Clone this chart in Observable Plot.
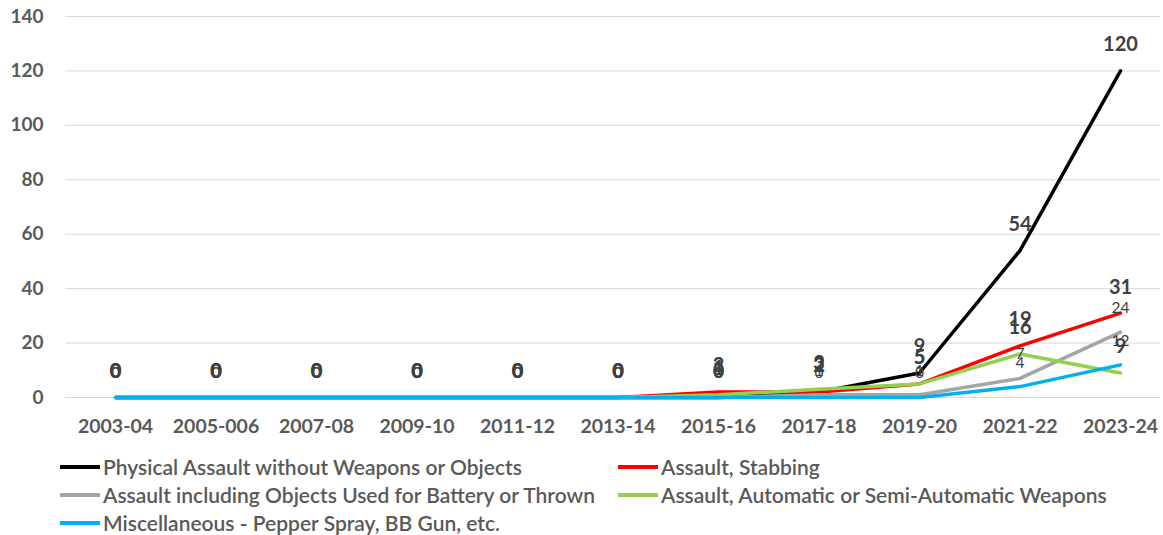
<!DOCTYPE html>
<html>
<head>
<meta charset="utf-8">
<script src="https://cdn.jsdelivr.net/npm/d3@7"></script>
<script src="https://cdn.jsdelivr.net/npm/@observablehq/plot@0.6"></script>
<style>
  body { margin: 0; background: #fff; font-family: Lato, "Open Sans", sans-serif; }
  #chart svg { display: block; }
  .legend { display: grid; grid-template-columns: 558px 540px; row-gap: 3px; margin: 12px 0 0 60px; color: #595959; font-size: 21px; font-weight: 600; line-height: 25px; }
  .legend span { display: flex; align-items: center; white-space: nowrap; }
  .legend i { display: inline-block; width: 40px; height: 4px; margin-right: 3px; }
</style>
</head>
<body>
<div id="chart"></div>
<div class="legend" id="legend"></div>
<script>
const years = ["2003-04", "2005-006", "2007-08", "2009-10", "2011-12", "2013-14", "2015-16", "2017-18", "2019-20", "2021-22", "2023-24"];
const seriesNames = [
  "Physical Assault without Weapons or Objects",
  "Assault, Stabbing",
  "Assault including Objects Used for Battery or Thrown",
  "Assault, Automatic or Semi-Automatic Weapons",
  "Miscellaneous - Pepper Spray, BB Gun, etc."
];
const seriesColors = ["#000000", "#FF0000", "#A5A5A5", "#92D050", "#00B0F0"];
const physical   = [0, 0, 0, 0, 0, 0, 0, 2, 9, 54, 120];
const stabbing   = [0, 0, 0, 0, 0, 0, 2, 2, 5, 19, 31];
const objects    = [0, 0, 0, 0, 0, 0, 0, 1, 1, 7, 24];
const firearms   = [0, 0, 0, 0, 0, 0, 1, 3, 5, 16, 9];
const misc       = [0, 0, 0, 0, 0, 0, 0, 0, 0, 4, 12];
const yTicks = [0, 20, 40, 60, 80, 100, 120, 140];

const seriesValues = [physical, stabbing, objects, firearms, misc];
// labels of the first, second and fourth series are set large and bold
const labelBold = [true, true, false, true, false];

const rows = seriesValues.flatMap((vals, s) =>
  vals.map((v, i) => ({ year: years[i], value: v, series: seriesNames[s], bold: labelBold[s] }))
);

const chart = Plot.plot({
  width: 1163,
  height: 442,
  marginLeft: 65,
  marginRight: 3,
  marginTop: 16,
  marginBottom: 45,
  style: { fontFamily: "Lato, 'Open Sans', sans-serif", background: "#fff" },
  x: { type: "point", domain: years, range: [115, 1120], padding: 0, round: false, label: null },
  y: { domain: [0, 140], label: null },
  color: { domain: seriesNames, range: seriesColors },
  marks: [
    Plot.ruleY(yTicks, { stroke: "#d9d9d9", strokeWidth: 1 }),
    Plot.axisY({ ticks: yTicks, tickSize: 0, tickPadding: 22, fontSize: 19, fontWeight: "bold", fill: "#595959", label: null }),
    Plot.axisX({ tickSize: 0, tickPadding: 22, fontSize: 19.5, fontWeight: "bold", fill: "#595959", label: null }),
    Plot.line(rows, { x: "year", y: "value", z: "series", stroke: "series", strokeWidth: 3.5, strokeLinejoin: "round" }),
    Plot.text(rows.filter(d => d.bold), { x: "year", y: "value", text: "value", dy: -26, fontSize: 20, fontWeight: "bold", fill: "#404040" }),
    Plot.text(rows.filter(d => !d.bold), { x: "year", y: "value", text: "value", dy: -24, fontSize: 15.5, fill: "#404040" })
  ]
});
document.getElementById("chart").append(chart);

const legend = document.getElementById("legend");
seriesNames.forEach((name, i) => {
  const item = document.createElement("span");
  const sw = document.createElement("i");
  sw.style.background = seriesColors[i];
  item.append(sw, document.createTextNode(name));
  legend.append(item);
});
</script>
</body>
</html>
